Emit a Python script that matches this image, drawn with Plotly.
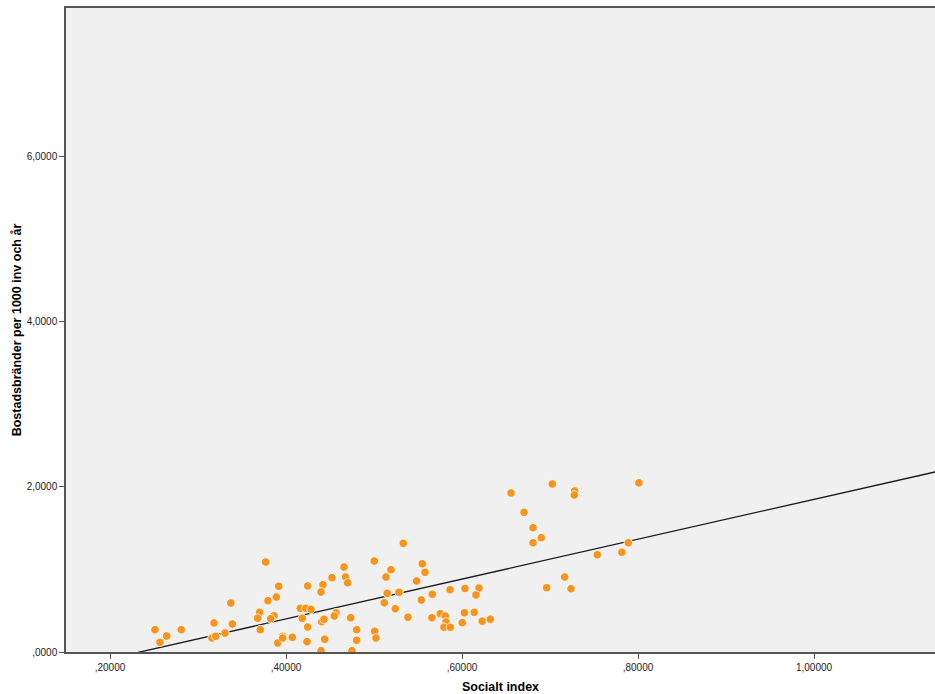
import plotly.graph_objects as go
import numpy as np

social_index = [0.2511, 0.2568, 0.2644, 0.2810, 0.3182, 0.3159, 0.3201, 0.3307, 0.3372, 0.3390,
                0.3769, 0.3701, 0.3678, 0.3708, 0.3864, 0.3826, 0.3795, 0.3890, 0.3917, 0.3906,
                0.3963, 0.3963, 0.4072, 0.4163, 0.4224, 0.4284, 0.4247, 0.4185, 0.4247, 0.4239,
                0.4420, 0.4398, 0.4406, 0.4432, 0.4440, 0.4398, 0.4523, 0.4659, 0.4678, 0.4701,
                0.4568, 0.4549, 0.4735, 0.4803, 0.4803, 0.4750, 0.5003, 0.5136, 0.5193, 0.5151,
                0.5117, 0.5284, 0.5242, 0.5008, 0.5023, 0.5333, 0.5549, 0.5580, 0.5485, 0.5663,
                0.5538, 0.5386, 0.5659, 0.5753, 0.5810, 0.5818, 0.5795, 0.5867, 0.5864, 0.6034,
                0.6193, 0.6159, 0.6028, 0.6139, 0.6003, 0.6230, 0.6322, 0.6557, 0.7026, 0.7281,
                0.7276, 0.8011, 0.6705, 0.6807, 0.6807, 0.6901, 0.7538, 0.7816, 0.7890, 0.6962,
                0.7167, 0.7239]
fires = [0.270, 0.117, 0.194, 0.270, 0.351, 0.169, 0.190, 0.230, 0.593, 0.339,
         1.089, 0.480, 0.408, 0.270, 0.439, 0.403, 0.621, 0.665, 0.795, 0.109,
         0.190, 0.169, 0.178, 0.529, 0.529, 0.517, 0.799, 0.408, 0.302, 0.125,
         0.814, 0.726, 0.367, 0.396, 0.154, 0.016, 0.899, 1.028, 0.907, 0.838,
         0.475, 0.436, 0.415, 0.270, 0.142, 0.016, 1.101, 0.907, 0.996, 0.710,
         0.596, 0.722, 0.524, 0.250, 0.169, 1.315, 1.068, 0.964, 0.859, 0.698,
         0.629, 0.420, 0.415, 0.463, 0.436, 0.363, 0.299, 0.299, 0.754, 0.768,
         0.774, 0.690, 0.475, 0.480, 0.355, 0.373, 0.397, 1.924, 2.033, 1.948,
         1.900, 2.047, 1.690, 1.504, 1.322, 1.383, 1.177, 1.207, 1.321, 0.778,
         0.907, 0.766]

fit_slope = 2.411
fit_intercept = -0.5644

x_tickvals = [0.2, 0.4, 0.6, 0.8, 1.0]
x_ticktext = [",20000", ",40000", ",60000", ",80000", "1,00000"]
y_tickvals = [0, 2, 4, 6]
y_ticktext = [",0000", "2,0000", "4,0000", "6,0000"]

x_range = [0.15, 1.1375]
y_range = [0, 7.792]

fit_x = np.array(x_range)
fit_y = fit_slope * fit_x + fit_intercept

fig = go.Figure()
fig.add_trace(go.Scatter(
    x=fit_x, y=fit_y, mode="lines",
    line=dict(color="#1a1a1a", width=1.3),
    hoverinfo="skip", showlegend=False))
fig.add_trace(go.Scatter(
    x=social_index, y=fires, mode="markers",
    marker=dict(size=8.5, color="#F7941D", line=dict(color="white", width=0.8)),
    showlegend=False))

fig.update_layout(
    width=935, height=694, autosize=False,
    margin=dict(l=66, r=0, t=8, b=42),
    paper_bgcolor="white",
    plot_bgcolor="#F0F0F0",
    font=dict(family="Liberation Sans, Arial, sans-serif", size=10, color="#222222"),
    xaxis=dict(
        range=x_range, tickvals=x_tickvals, ticktext=x_ticktext,
        showgrid=False, zeroline=False, showline=True, linecolor="#555555", linewidth=1.5,
        mirror=True, ticks="outside", ticklen=5, tickcolor="#555555",
        title=dict(text="<b>Socialt index</b>", font=dict(size=12.5, color="black"), standoff=10),
    ),
    yaxis=dict(
        range=y_range, tickvals=y_tickvals, ticktext=y_ticktext,
        showgrid=False, zeroline=False, showline=True, linecolor="#555555", linewidth=1.5,
        ticks="outside", ticklen=5, tickcolor="#555555",
        title=dict(text="<b>Bostadsbränder per 1000 inv och år</b>", font=dict(size=12.5, color="black"), standoff=2),
    ),
)

fig.write_html(
    "out.html",
    config={"responsive": False, "displayModeBar": False},
    default_width="935px", default_height="694px",
    post_script="document.body.style.margin='0';document.body.style.overflow='hidden';",
)
